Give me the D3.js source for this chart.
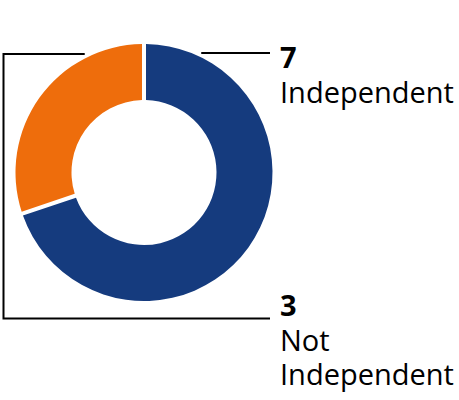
<!DOCTYPE html>
<html>
<head>
<meta charset="utf-8">
<script src="https://cdn.jsdelivr.net/npm/d3@7"></script>
<style>
  html, body { margin: 0; padding: 0; background: #fff; }
  svg { display: block; }
  text { font-family: "Open Sans", "Noto Sans", sans-serif; fill: #000; }
</style>
</head>
<body>
<svg id="chart" width="459" height="400"></svg>
<script>
// Board independence breakdown
const labels = ["Independent", "Not Independent"];
const values = [7, 3];
const colors = ["#153b7e", "#ee6d0c"];

const svg = d3.select("#chart");
const cx = 144, cy = 172.5;
const outerR = 128.5, innerR = 72.5;
const fontSize = 29, lineH = 34.5;

const pie = d3.pie().sort(null).value(d => d).padAngle(4 / outerR);
const arc = d3.arc().innerRadius(innerR).outerRadius(outerR).padRadius(outerR);
const arcs = pie(values);

// Leader lines (drawn behind the ring)
const lines = svg.append("g")
  .attr("fill", "none").attr("stroke", "#000").attr("stroke-width", 2);
const lineR = outerR + 4;
const textX = 280, lineEnd = 270;

// right label: horizontal line from the ring edge
const y1 = 53;
const x1 = cx + Math.sqrt(lineR * lineR - (cy - y1) * (cy - y1));
lines.append("path").attr("d", `M${x1},${y1}H${lineEnd}`);

// left/bottom label: bracket around the ring
const y2 = 54, y3 = 318.5, xL = 3.5;
const x2 = cx - Math.sqrt(lineR * lineR - (cy - y2) * (cy - y2));
lines.append("path").attr("d", `M${x2},${y2}H${xL}V${y3}H${lineEnd}`);

// Ring
svg.append("g").attr("transform", `translate(${cx},${cy})`)
  .selectAll("path").data(arcs).join("path")
  .attr("d", arc)
  .attr("fill", (d, i) => colors[i]);

// Labels: bold value, then the category name wrapped onto lines
function label(i, baseY, rows) {
  const g = svg.append("g").attr("font-size", fontSize);
  g.append("text").attr("x", textX).attr("y", baseY)
    .attr("font-weight", "bold").text(values[i]);
  rows.forEach((s, k) => {
    g.append("text").attr("x", textX).attr("y", baseY + lineH * (k + 1)).text(s);
  });
}
label(0, 68, [labels[0]]);
label(1, 316, labels[1].split(" "));
</script>
</body>
</html>
